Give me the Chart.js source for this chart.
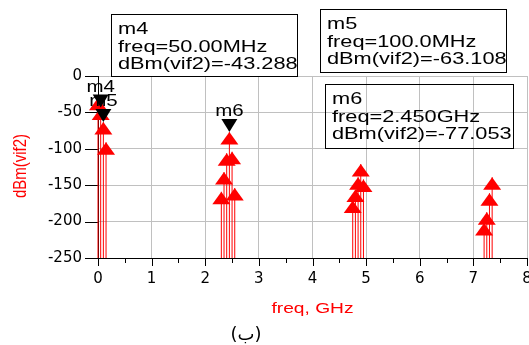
<!DOCTYPE html>
<html>
<head>
<meta charset="utf-8">
<script src="https://cdn.jsdelivr.net/npm/chart.js@4"></script>
<style>
  html, body { margin: 0; padding: 0; background: #fff; }
  #wrap { width: 529px; height: 345px; position: relative; }
</style>
</head>
<body>
<div id="wrap"><canvas id="c"></canvas></div>
<script>
// spectrum at vif2 (ADS-style stem plot with markers)
const freqGHz = [0, 0.05, 0.10, 0.15,
                 2.30, 2.35, 2.40, 2.45, 2.50, 2.55,
                 4.75, 4.80, 4.85, 4.90, 4.95,
                 7.20, 7.25, 7.30, 7.35];
const dbm = [-30, -43.3, -63.1, -91,
             -159, -132, -106, -77.05, -104, -154,
             -171, -156, -139, -121, -142,
             -202, -187, -161, -139];

const markerNames = ['m4', 'm5', 'm6'];
const markerFreq = [0.05, 0.10, 2.45];
const markerDbm = [-43.288, -63.108, -77.053];

const xTicks = [0, 1, 2, 3, 4, 5, 6, 7, 8];
const yTicks = [0, -50, -100, -150, -200, -250];

const RED = '#ff0000';
const SX = 1.28; // the reference text is stretched sideways

// marker readout boxes (pixel layout only)
const boxes = [
  { x: 111, y: 14, w: 186, h: 62 },
  { x: 320, y: 9, w: 186, h: 63 },
  { x: 325, y: 84, w: 188, h: 64 },
];

function fmtFreq(f) {
  if (f < 1) return (f * 1000).toPrecision(4) + 'MHz';
  return f.toPrecision(4) + 'GHz';
}

function sText(ctx, txt, x, y, font, color, align) {
  ctx.save();
  ctx.font = font;
  ctx.fillStyle = color;
  ctx.textAlign = align || 'left';
  ctx.textBaseline = 'alphabetic';
  ctx.translate(x, y);
  ctx.scale(SX, 1);
  ctx.fillText(txt, 0, 0);
  ctx.restore();
}

const spectrum = {
  id: 'spectrum',
  afterDatasetsDraw(chart) {
    const ctx = chart.ctx, a = chart.chartArea;
    const xs = chart.scales.x, ys = chart.scales.y;
    ctx.save();
    // tick marks (major + half-step minor on x)
    ctx.strokeStyle = '#000';
    ctx.lineWidth = 1;
    ctx.beginPath();
    xTicks.forEach((v, i) => {
      const px = Math.round(xs.getPixelForValue(v)) + 0.5;
      ctx.moveTo(px, a.bottom); ctx.lineTo(px, a.bottom + 8);
      if (i < xTicks.length - 1) {
        const mx = Math.round(xs.getPixelForValue((v + xTicks[i + 1]) / 2)) + 0.5;
        ctx.moveTo(mx, a.bottom); ctx.lineTo(mx, a.bottom + 5);
      }
    });
    yTicks.forEach(v => {
      const py = Math.round(ys.getPixelForValue(v)) + 0.5;
      ctx.moveTo(a.left - 13, py); ctx.lineTo(a.left, py);
    });
    ctx.stroke();

    // stems
    const pts = chart.getDatasetMeta(0).data;
    ctx.strokeStyle = RED;
    pts.forEach(p => {
      ctx.beginPath();
      ctx.moveTo(p.x, a.bottom);
      ctx.lineTo(p.x, p.y);
      ctx.stroke();
    });
    // triangle heads, apex on the value
    ctx.fillStyle = RED;
    pts.forEach(p => {
      ctx.beginPath();
      ctx.moveTo(p.x, p.y);
      ctx.lineTo(p.x + 9, p.y + 12.5);
      ctx.lineTo(p.x - 9, p.y + 12.5);
      ctx.closePath();
      ctx.fill();
    });

    // markers: last first so m4 ends on top
    const mk = chart.getDatasetMeta(1).data;
    for (let i = mk.length - 1; i >= 0; i--) {
      const p = mk[i];
      sText(ctx, markerNames[i], p.x, p.y - 16, '16px "Liberation Sans", Arial, sans-serif', '#000', 'center');
      ctx.fillStyle = '#000';
      ctx.beginPath();
      ctx.moveTo(p.x, p.y);
      ctx.lineTo(p.x + 8, p.y - 13);
      ctx.lineTo(p.x - 8, p.y - 13);
      ctx.closePath();
      ctx.fill();
    }
    ctx.restore();
  },
  afterDraw(chart) {
    const ctx = chart.ctx;
    const f = '17px "Liberation Sans", Arial, sans-serif';
    boxes.forEach((b, i) => {
      ctx.save();
      ctx.beginPath();
      ctx.rect(b.x, b.y, b.w + 2, b.h);
      ctx.clip();
      const lines = [markerNames[i], 'freq=' + fmtFreq(markerFreq[i]), 'dBm(vif2)=' + markerDbm[i].toFixed(3)];
      lines.forEach((t, j) => sText(ctx, t, b.x + 7, b.y + 20 + j * 17.5, f, '#000'));
      ctx.restore();
      ctx.save();
      ctx.strokeStyle = '#000';
      ctx.lineWidth = 1;
      ctx.strokeRect(b.x + 0.5, b.y + 0.5, b.w, b.h);
      ctx.restore();
    });

    // axis titles
    const a = chart.chartArea;
    sText(ctx, 'freq, GHz', (a.left + a.right) / 2, 313, '15px "Liberation Sans", Arial, sans-serif', RED, 'center');
    ctx.save();
    ctx.translate(21, 166);
    ctx.scale(SX, 1);
    ctx.rotate(-Math.PI / 2);
    ctx.font = '15px "Liberation Sans", Arial, sans-serif';
    ctx.fillStyle = RED;
    ctx.textAlign = 'center';
    ctx.textBaseline = 'middle';
    ctx.fillText('dBm(vif2)', 0, 0);
    ctx.restore();

    // caption
    ctx.save();
    ctx.font = '18px "DejaVu Sans", sans-serif';
    ctx.fillStyle = '#000';
    ctx.textAlign = 'center';
    ctx.fillText('(ب)', 246, 340);
    ctx.restore();
  }
};

new Chart(document.getElementById('c'), {
  type: 'scatter',
  data: {
    datasets: [
      { data: freqGHz.map((x, i) => ({ x, y: dbm[i] })), pointRadius: 0, showLine: false },
      { data: markerFreq.map((x, i) => ({ x, y: markerDbm[i] })), pointRadius: 0, showLine: false },
    ],
  },
  options: {
    responsive: true,
    maintainAspectRatio: false,
    animation: false,
    devicePixelRatio: 1,
    layout: { padding: { top: 76, right: 2, left: 0, bottom: 0 } },
    plugins: { legend: { display: false }, tooltip: { enabled: false } },
    scales: {
      x: {
        type: 'linear', min: 0, max: 8,
        afterBuildTicks: (s) => { s.ticks = xTicks.map(v => ({ value: v })); },
        afterFit: (s) => { s.height = 87; s.paddingLeft = 0; s.paddingRight = 0; },
        ticks: { color: '#000', font: { family: 'DejaVu Sans', size: 15 }, padding: 12, maxRotation: 0, autoSkip: false },
        grid: { color: '#c0c0c0', drawTicks: false },
        border: { color: '#000', width: 1 },
      },
      y: {
        type: 'linear', min: -250, max: 0,
        afterBuildTicks: (s) => { s.ticks = yTicks.map(v => ({ value: v })); },
        afterFit: (s) => { s.width = 98; },
        ticks: { color: '#000', font: { family: 'DejaVu Sans', size: 15 }, padding: 16 },
        grid: { color: '#c0c0c0', drawTicks: false },
        border: { color: '#000', width: 1 },
      },
    },
  },
  plugins: [spectrum],
});
</script>
</body>
</html>
